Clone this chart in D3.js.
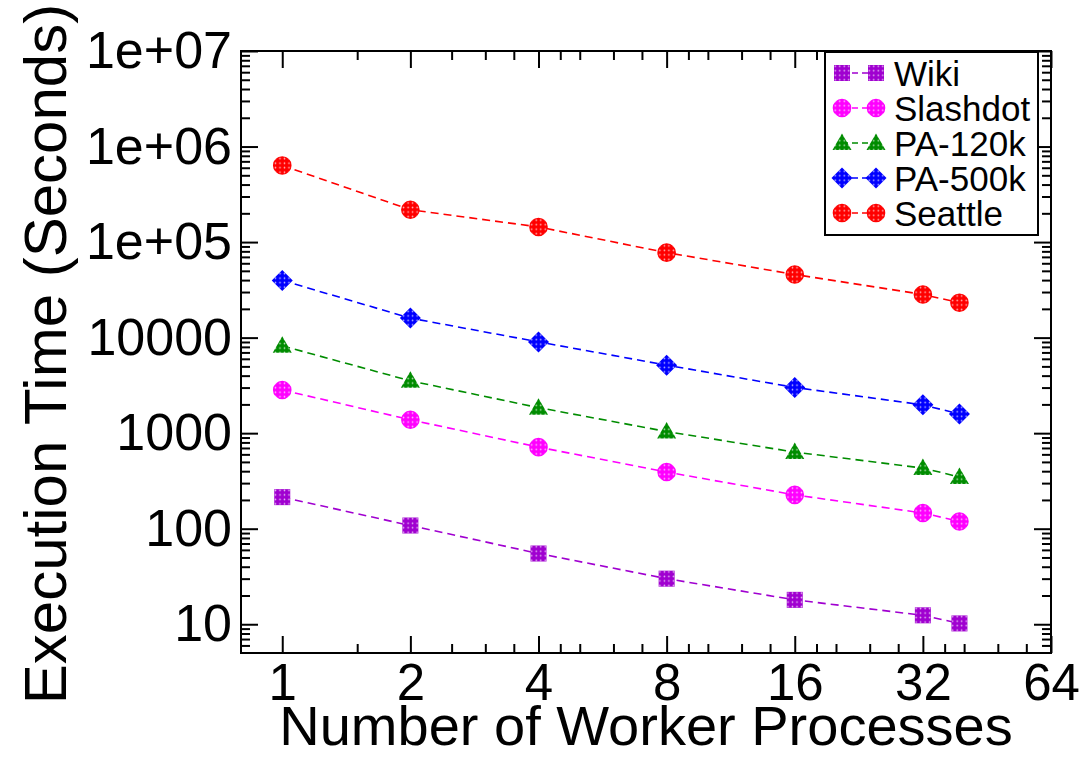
<!DOCTYPE html>
<html>
<head>
<meta charset="utf-8">
<script src="https://cdn.jsdelivr.net/npm/d3@7"></script>
<style>
  body { margin: 0; background: #fff; }
  svg { font-family: "Liberation Sans", Arial, sans-serif; }
  .tick line { stroke: #000; stroke-width: 2; }
  .domain { display: none; }
</style>
</head>
<body>
<svg id="chart" width="1087" height="757"></svg>
<script>
const workers = [1, 2, 4, 8, 16, 32, 39];
const wiki = [214, 108, 55, 30, 18, 12.4, 10.2];
const slashdot = [2830, 1380, 714, 392, 226, 146, 119];
const pa120k = [8200, 3530, 1850, 1040, 634, 431, 348];
const pa500k = [39700, 16000, 9020, 5150, 3010, 1980, 1585];
const seattle = [634000, 218000, 144000, 77600, 45800, 28300, 23200];

const xTicks = [1, 2, 4, 8, 16, 32, 64];
const xMinorTicks = [1.5, 2.5, 3, 3.5, 4.5, 5, 6, 7, 9, 10, 12, 14,
  18, 20, 24, 28, 36, 40, 48, 56];
const yTicks = [10, 100, 1000, 10000, 1e5, 1e6, 1e7];
const yTickLabels = ['10', '100', '1000', '10000', '1e+05', '1e+06', '1e+07'];

const series = [
  { name: 'Wiki', values: wiki, color: '#a000d0', shape: 'square' },
  { name: 'Slashdot', values: slashdot, color: '#ff00ff', shape: 'circle' },
  { name: 'PA-120k', values: pa120k, color: '#008c00', shape: 'triangle' },
  { name: 'PA-500k', values: pa500k, color: '#0000ff', shape: 'diamond' },
  { name: 'Seattle', values: seattle, color: '#ff0000', shape: 'circle' },
];

const [x0, x1, y0, y1] = [241, 1051, 51, 653];

const svg = d3.select('#chart');

const x = d3.scaleLog().base(2)
    .domain([0.8, 64])
    .range([x0, x1]);

const y = d3.scaleLog()
    .domain([5, 1e7])
    .range([y1, y0]);

let yMinor = [];
for (let d = 1; d <= 1e6; d *= 10) {
  for (let k = 2; k <= 9; k++) {
    if (k * d > 5) yMinor.push(k * d);
  }
}

// marker fills: colour with a grid of small white dots
const defs = svg.append('defs');
series.forEach((s, i) => {
  const p = defs.append('pattern')
      .attr('id', `dots${i}`)
      .attr('patternUnits', 'userSpaceOnUse')
      .attr('width', 4.5)
      .attr('height', 4.5);
  p.append('rect')
      .attr('width', 4.5)
      .attr('height', 4.5)
      .attr('fill', s.color);
  p.append('circle')
      .attr('cx', 2.25)
      .attr('cy', 2.25)
      .attr('r', 0.8)
      .attr('fill', '#fff')
      .attr('opacity', 0.75);
});

const shapePath = shape => {
  switch (shape) {
    case 'square': return 'M-8,-8H8V8H-8Z';
    case 'triangle': return 'M0,-9.5L9.5,7L-9.5,7Z';
    case 'diamond': return 'M0,-10.5L10.5,0L0,10.5L-10.5,0Z';
    default: return 'M9.3,0A9.3,9.3 0 1,1 -9.3,0A9.3,9.3 0 1,1 9.3,0Z';
  }
};

// axes, ticks pointing into the plot
const axisG = svg.append('g').attr('class', 'axes');

const addAxis = (axis, tx, ty) => {
  const g = axisG.append('g')
      .attr('transform', `translate(${tx},${ty})`)
      .call(axis);
  g.selectAll('text')
      .attr('fill', '#000')
      .attr('font-size', 51);
  return g;
};

addAxis(d3.axisBottom(x).tickValues(xTicks).tickSize(-17).tickSizeOuter(0)
    .tickPadding(0).tickFormat(d3.format('d')), 0, y1)
  .selectAll('text')
    .attr('dy', null)
    .attr('y', 47);
addAxis(d3.axisBottom(x).tickValues(xMinorTicks).tickSize(-9)
    .tickSizeOuter(0).tickFormat(''), 0, y1);
addAxis(d3.axisTop(x).tickValues(xTicks).tickSize(-17)
    .tickSizeOuter(0).tickFormat(''), 0, y0);
addAxis(d3.axisTop(x).tickValues(xMinorTicks).tickSize(-9)
    .tickSizeOuter(0).tickFormat(''), 0, y0);

addAxis(d3.axisLeft(y).tickValues(yTicks).tickSize(-17).tickSizeOuter(0)
    .tickPadding(9).tickFormat((d, i) => yTickLabels[i]), x0, 0)
  .selectAll('text')
    .attr('font-size', 52);
addAxis(d3.axisLeft(y).tickValues(yMinor).tickSize(-9)
    .tickSizeOuter(0).tickFormat(''), x0, 0);
addAxis(d3.axisRight(y).tickValues(yTicks).tickSize(-17)
    .tickSizeOuter(0).tickFormat(''), x1, 0);
addAxis(d3.axisRight(y).tickValues(yMinor).tickSize(-9)
    .tickSizeOuter(0).tickFormat(''), x1, 0);

svg.append('rect')
    .attr('x', x0)
    .attr('y', y0)
    .attr('width', x1 - x0)
    .attr('height', y1 - y0)
    .attr('fill', 'none')
    .attr('stroke', '#000')
    .attr('stroke-width', 2);

// titles
svg.append('text')
    .attr('x', (x0 + x1) / 2)
    .attr('y', 745)
    .attr('text-anchor', 'middle')
    .attr('font-size', 56)
    .text('Number of Worker Processes');

svg.append('text')
    .attr('transform', `translate(66,${(y0 + y1) / 2 + 2}) rotate(-90)`)
    .attr('text-anchor', 'middle')
    .attr('font-size', 60)
    .text('Execution Time (Seconds)');

// series
const line = d3.line()
    .x(d => x(d[0]))
    .y(d => y(d[1]));

const plot = svg.append('g').attr('class', 'series');

series.forEach((s, i) => {
  const pts = workers.map((w, j) => [w, s.values[j]]);
  plot.append('path')
      .attr('d', line(pts))
      .attr('fill', 'none')
      .attr('stroke', s.color)
      .attr('stroke-width', 1.6)
      .attr('stroke-dasharray', '8,5');
  plot.append('g')
    .selectAll('path')
    .data(pts)
    .join('path')
      .attr('transform', d => `translate(${x(d[0])},${y(d[1])})`)
      .attr('d', shapePath(s.shape))
      .attr('fill', `url(#dots${i})`);
});

// legend
const legend = svg.append('g').attr('class', 'legend');

legend.append('rect')
    .attr('x', 825)
    .attr('y', 52)
    .attr('width', 213)
    .attr('height', 183)
    .attr('fill', '#fff')
    .attr('stroke', '#000')
    .attr('stroke-width', 2);

const entry = legend.selectAll('g.entry')
  .data(series)
  .join('g')
    .attr('class', 'entry')
    .attr('transform', (d, i) => `translate(0,${73 + i * 35})`);

entry.append('line')
    .attr('x1', 842)
    .attr('x2', 876)
    .attr('stroke', d => d.color)
    .attr('stroke-width', 1.6)
    .attr('stroke-dasharray', '6,4');

[842, 876].forEach(cx => {
  entry.append('path')
      .attr('transform', `translate(${cx},0)`)
      .attr('d', d => shapePath(d.shape))
      .attr('fill', (d, i) => `url(#dots${i})`);
});

entry.append('text')
    .attr('x', 894)
    .attr('dy', '0.36em')
    .attr('font-size', 35)
    .text(d => d.name);
</script>
</body>
</html>
